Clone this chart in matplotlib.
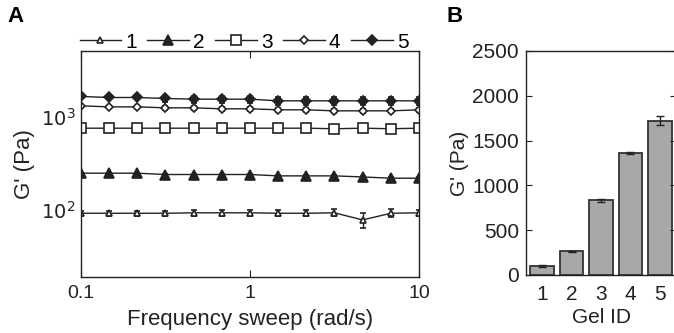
import numpy as np
import matplotlib.pyplot as plt
from matplotlib.lines import Line2D

plt.rcParams["font.family"] = ["Liberation Sans", "DejaVu Sans"]

# frequency sweep, 13 points 0.1 -> 10 rad/s
freq = [0.1, 0.147, 0.215, 0.316, 0.464, 0.681, 1.0, 1.47, 2.15, 3.16, 4.64, 6.81, 10.0]

g1 = [92, 92, 92, 92, 93, 93, 93, 92, 92, 93, 78, 92, 93]
g1_err = [6, 6, 6, 6, 6, 6, 6, 7, 7, 8, 14, 9, 7]
g2 = [248, 248, 248, 240, 240, 240, 240, 232, 232, 232, 226, 219, 219]
g2_err = [4, 4, 4, 4, 4, 4, 4, 4, 4, 4, 4, 4, 4]
g3 = [755, 755, 755, 755, 755, 755, 755, 755, 755, 745, 755, 745, 755]
g3_err = [60, 20, 20, 20, 20, 20, 20, 20, 20, 20, 20, 20, 60]
g4 = [1313, 1280, 1280, 1250, 1250, 1220, 1220, 1190, 1190, 1160, 1160, 1160, 1190]
g4_err = [40, 40, 40, 60, 60, 60, 60, 60, 60, 60, 60, 60, 60]
g5 = [1655, 1614, 1614, 1575, 1549, 1549, 1549, 1486, 1486, 1486, 1486, 1486, 1486]
g5_err = [40, 50, 60, 120, 130, 130, 130, 140, 140, 140, 140, 140, 140]

gel_ids = ["1", "2", "3", "4", "5"]
gel_mean = [100, 265, 835, 1360, 1720]
gel_err = [8, 4, 15, 10, 50]

ink = "#222222"

fig = plt.figure(figsize=(6.74, 3.33), dpi=100)

# --- panel A ---
ax = fig.add_axes([81 / 674, 56 / 333, 338 / 674, 226 / 333])
series = [
    (g1, g1_err, "^", "white", 5, "1"),
    (g2, g2_err, "^", ink, 7, "2"),
    (g3, g3_err, "s", "white", 7.5, "3"),
    (g4, g4_err, "D", "white", 4.2, "4"),
    (g5, g5_err, "D", ink, 5.5, "5"),
]
handles = []
for vals, err, mk, fc, ms, lab in series:
    ax.errorbar(freq, vals, yerr=err, color=ink, marker=mk, mfc=fc, mec=ink,
                ms=ms, mew=1.2, lw=1.0, elinewidth=1.0, capsize=2.5)
    handles.append(Line2D([], [], color=ink, marker=mk, mfc=fc, mec=ink, ms=ms, mew=1.2, lw=1.0))
ax.set_xscale("log")
ax.set_yscale("log")
ax.set_xlim(0.1, 10)
ax.set_ylim(19, 5100)
ax.set_xticks([0.1, 1, 10])
ax.set_xticklabels(["0.1", "1", "10"])
ax.set_yticks([100, 1000])
ax.set_yticklabels([r"$10^2$", r"$10^3$"])
ax.minorticks_off()
ax.tick_params(axis="x", direction="in", top=True, length=5, labelsize=14, colors=ink, pad=6)
ax.tick_params(axis="y", length=0, labelsize=14, colors=ink, pad=4)
for s in ax.spines.values():
    s.set_color(ink)
    s.set_linewidth(1.0)
ax.set_xlabel("Frequency sweep (rad/s)", fontsize=16, color=ink, labelpad=5)
ax.set_ylabel("G' (Pa)", fontsize=16, color=ink, labelpad=4)
fig.legend(handles=handles, labels=[s[5] for s in series], ncol=5, frameon=False,
           loc="center", bbox_to_anchor=(244 / 674, 1 - 42 / 333), fontsize=15,
           handlelength=2.0, handletextpad=0.2, columnspacing=0.5,
           borderpad=0, borderaxespad=0)

fig.text(15 / 674, 1 - 16 / 333, "A", fontsize=16, fontweight="bold", va="center", ha="center")
fig.text(455 / 674, 1 - 17 / 333, "B", fontsize=16, fontweight="bold", va="center", ha="center")

# --- panel B ---
bx = fig.add_axes([526 / 674, 58 / 333, 150 / 674, 224 / 333])
pos = np.arange(1, len(gel_ids) + 1)
bx.bar(pos, gel_mean, width=0.8, color="#a8a8a8", edgecolor="#333333", linewidth=1.3,
       yerr=gel_err, error_kw=dict(ecolor=ink, elinewidth=1.0, capsize=3))
bx.set_xlim(0.45, 5.55)
bx.set_ylim(0, 2500)
bx.set_yticks([0, 500, 1000, 1500, 2000, 2500])
bx.set_xticks(pos)
bx.set_xticklabels(gel_ids)
bx.tick_params(axis="y", direction="in", right=True, length=4, labelsize=15, colors=ink, pad=5)
bx.tick_params(axis="x", length=0, labelsize=15, colors=ink, pad=7)
for s in bx.spines.values():
    s.set_color(ink)
    s.set_linewidth(1.0)
bx.set_xlabel("Gel ID", fontsize=15, color=ink, labelpad=3)
bx.set_ylabel("G' (Pa)", fontsize=15, color=ink, labelpad=2)

fig.savefig("out.png", dpi=100)
